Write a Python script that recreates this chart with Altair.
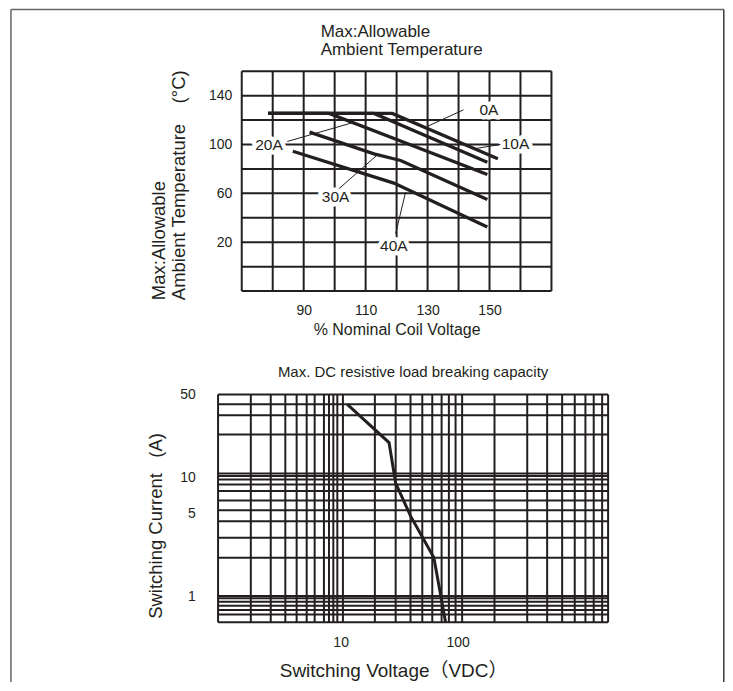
import altair as alt
import pandas as pd

DARK = "#231f20"
FONT = "Liberation Sans, Arial, Noto Sans CJK SC, sans-serif"

# ---------------- top chart: allowable ambient temperature ----------------
top_x_domain = [70, 170]
top_y_domain = [-20, 160]
top_x_grid = [70, 80, 90, 100, 110, 120, 130, 140, 150, 160, 170]
top_y_grid = [-20, 0, 20, 40, 60, 80, 100, 120, 140, 160]
top_x_ticks = [90, 110, 130, 150]
top_y_ticks = [20, 60, 100, 140]

x_0A = [78.5, 118.6, 152.7]
y_0A = [125.5, 125.5, 88.3]
x_10A = [78.5, 112.7, 149.3]
y_10A = [125.5, 125.5, 85.5]
x_20A = [78.5, 98.2, 149.3]
y_20A = [125.5, 125.5, 75.5]
x_30A = [91.9, 112.7, 121.3, 149.3]
y_30A = [110.1, 92.4, 86.9, 55.0]
x_40A = [86.5, 119.1, 149.3]
y_40A = [94.5, 68.4, 32.4]

label_text = ["0A", "10A", "20A", "30A", "40A"]
label_x = [149.8, 158.4, 78.8, 100.3, 119.1]
label_y = [128.4, 100.3, 99.4, 57.0, 16.8]
leader_x1 = [141.6, 153.5, 84.7, 101.4, 119.7]
leader_y1 = [128.4, 100.0, 102.5, 63.8, 27.0]
leader_x2 = [129.9, 144.9, 105.7, 113.8, 122.9]
leader_y2 = [114.8, 96.5, 117.8, 91.6, 61.0]

top_title = "Max:Allowable\nAmbient Temperature"

# ---------------- bottom chart: DC breaking capacity ----------------
bot_x_domain = [0.898, 1923]
bot_y_domain = [0.6, 50]
bot_x_grid = [1.71, 2.53, 3.37, 4.21, 5.13, 6.0, 7.2, 7.95, 8.66, 9.37, 10.46,
              19.6, 29.5, 39.5, 49.8, 60.6, 72.8, 84.0, 95.8, 109,
              206, 392, 580, 779, 998, 1231, 1449, 1710]
bot_y_grid = [0.70, 0.761, 0.828, 0.895, 0.956, 1.0, 2.1, 3.1, 4.28, 5.3,
              6.4, 7.7, 8.7, 9.6, 10.3, 10.8, 23.0, 33.5, 41.4]
bot_x_ticks = [10, 100]
bot_y_ticks = [1, 5, 10, 50]
curve_x = [11.4, 25.9, 29.5, 39.6, 62.5, 78.7]
curve_y = [41.4, 19.7, 8.95, 4.72, 2.11, 0.6]

# ---------------- tables ----------------
rows = []
for name, xs, ys in [("0A", x_0A, y_0A), ("10A", x_10A, y_10A), ("20A", x_20A, y_20A),
                     ("30A", x_30A, y_30A), ("40A", x_40A, y_40A)]:
    for i, (a, b) in enumerate(zip(xs, ys)):
        rows.append({"series": name, "order": i, "x": a, "y": b})
df_top_lines = pd.DataFrame(rows)
df_top_vgrid = pd.DataFrame({"gx": top_x_grid})
df_top_hgrid = pd.DataFrame({"gy": top_y_grid})
df_labels = pd.DataFrame({"text": label_text, "x": label_x, "y": label_y})
df_leaders = pd.DataFrame({"x1": leader_x1, "y1": leader_y1, "x2": leader_x2, "y2": leader_y2})
df_one = pd.DataFrame({"t": [top_title]})

df_bot_vgrid = pd.DataFrame({"gx": bot_x_grid + bot_x_domain})
df_bot_hgrid = pd.DataFrame({"gy": bot_y_grid + bot_y_domain})
df_curve = pd.DataFrame({"x": curve_x, "y": curve_y, "order": list(range(len(curve_x)))})

# ---------------- top chart ----------------
xs_top = alt.Scale(domain=top_x_domain, range=[23.7, 333.7], nice=False, zero=False)
ys_top = alt.Scale(domain=top_y_domain, nice=False, zero=False)

ax_top_x = alt.Axis(
    values=top_x_ticks, grid=False, ticks=False, tickSize=0, domain=False,
    labelFontSize=14, labelPadding=12, labelColor=DARK, labelFont=FONT,
    title="% Nominal Coil Voltage", titleFontSize=16, titleFontWeight="normal",
    titleColor=DARK, titleFont=FONT, titlePadding=4)
ax_top_y = alt.Axis(
    values=top_y_ticks, grid=False, ticks=False, tickSize=0, domain=False,
    offset=-23.7, labelFontSize=14, labelPadding=10, labelColor=DARK, labelFont=FONT,
    title=["Max:Allowable", "Ambient Temperature\u00a0\u00a0\u00a0\u00a0(°C)"],
    titleFontSize=18.5, titleFontWeight="normal", titleColor=DARK, titleFont=FONT,
    titleAlign="left", titleY=228.6, titleLineHeight=20, titlePadding=20)

def tx(field):
    return alt.X(field, type="quantitative", scale=xs_top, axis=ax_top_x)

def ty(field):
    return alt.Y(field, type="quantitative", scale=ys_top, axis=ax_top_y)

top_vgrid = alt.Chart(df_top_vgrid).mark_rule(color=DARK, strokeWidth=2).encode(
    x=tx("gx"),
    y=alt.YDatum(top_y_domain[0], scale=ys_top, axis=ax_top_y),
    y2=alt.datum(top_y_domain[1]),
)
top_hgrid = alt.Chart(df_top_hgrid).mark_rule(color=DARK, strokeWidth=2).encode(
    y=ty("gy"),
    x=alt.XDatum(top_x_domain[0], scale=xs_top, axis=ax_top_x),
    x2=alt.datum(top_x_domain[1]),
)
top_halo = alt.Chart(df_labels).mark_text(
    fontSize=15.5, font=FONT, fill="white", stroke="white", strokeWidth=9, strokeJoin="round"
).encode(x=tx("x"), y=ty("y"), text="text:N")
top_lines = alt.Chart(df_top_lines).mark_line(color=DARK, strokeWidth=3.3).encode(
    x=tx("x"), y=ty("y"), detail="series:N", order="order:Q")
top_leaders = alt.Chart(df_leaders).mark_rule(color=DARK, strokeWidth=1).encode(
    x=tx("x1"), y=ty("y1"), x2="x2:Q", y2="y2:Q")
top_text = alt.Chart(df_labels).mark_text(fontSize=15.5, font=FONT, color=DARK).encode(
    x=tx("x"), y=ty("y"), text="text:N")

# chart heading drawn as text so that the page frame does not push it away
top_heading = alt.Chart(df_one).mark_text(
    fontSize=17, font=FONT, color=DARK, align="left", baseline="alphabetic",
    lineBreak="\n", lineHeight=17.6
).encode(x=alt.value(102.7), y=alt.value(-34), text="t:N")

# page frame (decoration)
frame_left = alt.Chart(df_one).mark_rule(color="#666666", strokeWidth=1.5).encode(
    x=alt.value(-207.3), y=alt.value(-61.9), y2=alt.value(611.3))
frame_top = alt.Chart(df_one).mark_rule(color="#666666", strokeWidth=1.5).encode(
    x=alt.value(-207.3), x2=alt.value(506.2), y=alt.value(-61.9))
frame_right = alt.Chart(df_one).mark_rule(color=DARK, strokeWidth=1.3).encode(
    x=alt.value(506.2), y=alt.value(-61.9), y2=alt.value(611.3))

top = alt.layer(
    top_vgrid, top_hgrid, top_halo, top_lines, top_leaders, top_text,
    top_heading, frame_left, frame_top, frame_right,
).properties(width=390.4, height=220)

# ---------------- bottom chart ----------------
xs_bot = alt.Scale(type="log", domain=bot_x_domain, nice=False)
ys_bot = alt.Scale(type="log", domain=bot_y_domain, nice=False)

ax_bot_x = alt.Axis(
    values=bot_x_ticks, grid=False, ticks=False, tickSize=0, domain=False,
    labelExpr="format(datum.value, 'd')",
    labelFontSize=14, labelPadding=13, labelColor=DARK, labelFont=FONT,
    title="Switching Voltage（VDC）", titleFontSize=19, titleFontWeight="normal",
    titleColor=DARK, titleFont=FONT, titleX=175.2, titleAlign="center", titlePadding=12)
ax_bot_y = alt.Axis(
    values=bot_y_ticks, grid=False, ticks=False, tickSize=0, domain=False,
    labelExpr="format(datum.value, 'd')",
    labelFontSize=14, labelPadding=22.8, labelColor=DARK, labelFont=FONT,
    title="Switching Current\u00a0\u00a0\u00a0(A)", titleFontSize=18.5, titleFontWeight="normal",
    titleColor=DARK, titleFont=FONT, titleAlign="left", titleY=224, titlePadding=14)

bot_vgrid = alt.Chart(df_bot_vgrid).mark_rule(color=DARK, strokeWidth=2).encode(
    x=alt.X("gx:Q", scale=xs_bot, axis=ax_bot_x),
    y=alt.YDatum(bot_y_domain[0], scale=ys_bot, axis=ax_bot_y),
    y2=alt.datum(bot_y_domain[1]),
)
bot_hgrid = alt.Chart(df_bot_hgrid).mark_rule(color=DARK, strokeWidth=2).encode(
    y=alt.Y("gy:Q", scale=ys_bot, axis=ax_bot_y),
    x=alt.XDatum(bot_x_domain[0], scale=xs_bot, axis=ax_bot_x),
    x2=alt.datum(bot_x_domain[1]),
)
bot_curve = alt.Chart(df_curve).mark_line(color=DARK, strokeWidth=3).encode(
    x=alt.X("x:Q", scale=xs_bot, axis=ax_bot_x), y=alt.Y("y:Q", scale=ys_bot, axis=ax_bot_y),
    order="order:Q")

bottom = alt.layer(bot_vgrid, bot_hgrid, bot_curve).properties(
    width=390.4, height=228,
    title=alt.TitleParams("Max. DC resistive load breaking capacity", anchor="middle", frame="group",
                          fontSize=15, fontWeight="normal", color=DARK, font=FONT, offset=8),
)

chart = alt.vconcat(top, bottom, spacing=103.6, bounds="flush").properties(
    padding={"left": 1.25, "top": 0, "right": 0, "bottom": 0}
).configure(font=FONT).configure_view(stroke=None)

chart.save("out.html", embed_options={"renderer": "svg", "actions": False})
